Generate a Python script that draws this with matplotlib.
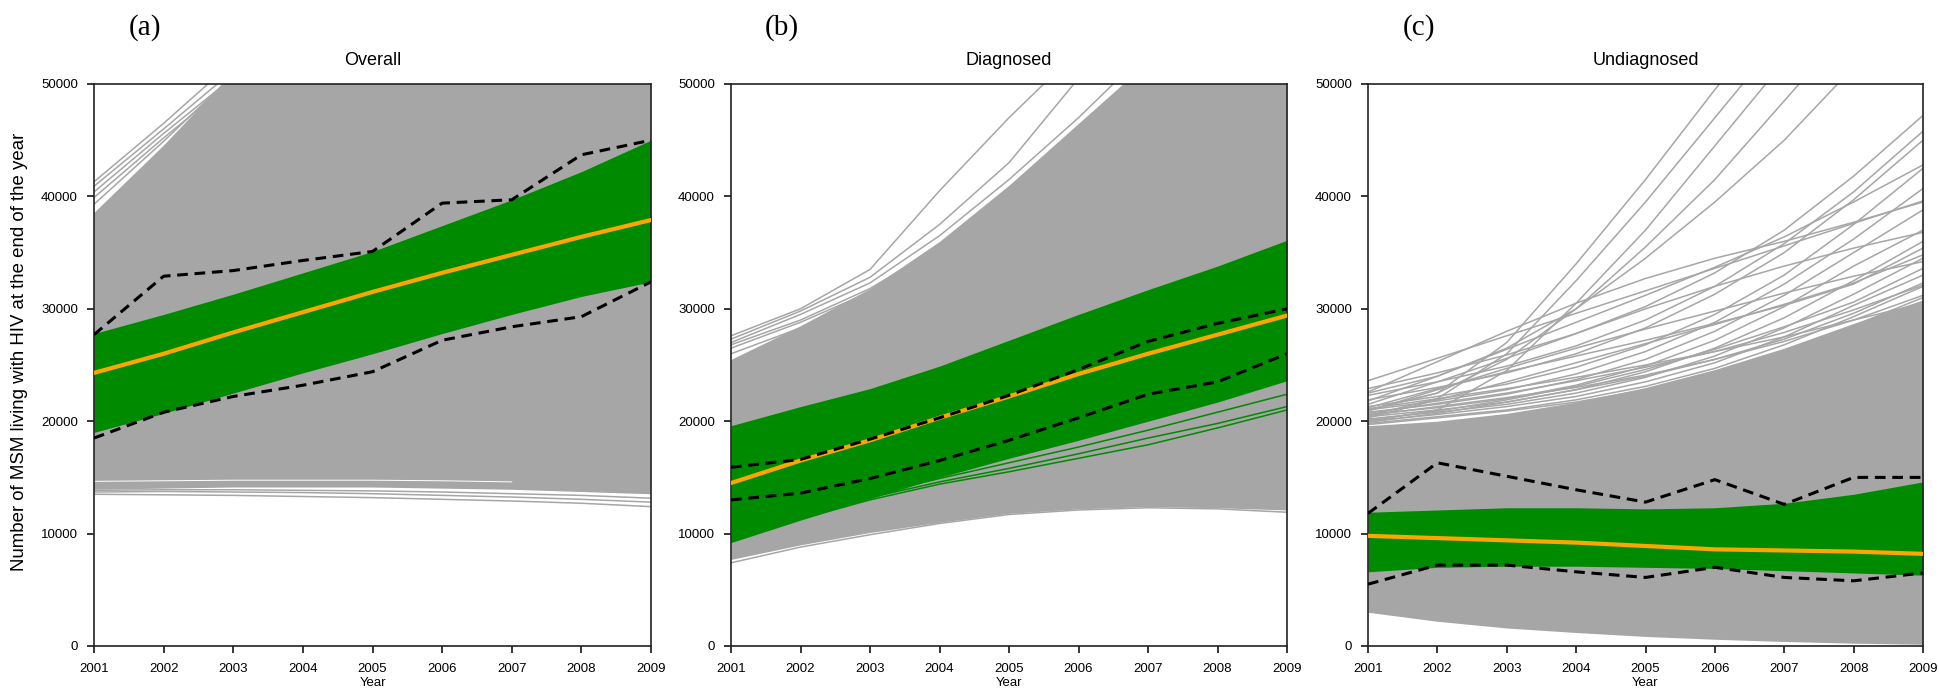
import numpy as np
import matplotlib
matplotlib.use("Agg")
import matplotlib.pyplot as plt

years = [2001, 2002, 2003, 2004, 2005, 2006, 2007, 2008, 2009]
panel_letters = ["(a)", "(b)", "(c)"]
panel_titles = ["Overall", "Diagnosed", "Undiagnosed"]
yticks = [0, 10000, 20000, 30000, 40000, 50000]

# ---------------- (a) Overall ----------------
ov_gray_lo = [13900, 14000, 14100, 14100, 14100, 14000, 13900, 13700, 13500]
ov_gray_hi = [38500, 44500, 51000, 56000, 60000, 64000, 68000, 72000, 76000]
ov_gray_lines = [
    [41300, 46500, 52000, 57000, 62000, 67000, 72000, 77000, 82000],
    [40900, 46000, 51200, 56000, 61000, 66000, 71000, 76000, 81000],
    [40400, 45600, 50600, 55500, 60500, 65500, 70500, 75500, 80500],
    [39900, 45200, 50300, 55000, 60000, 65000, 70000, 75000, 80000],
    [39300, 44900, 50800, 55500, 60000, 65000, 70000, 75000, 80000],
    [13500, 13450, 13400, 13300, 13200, 13050, 12900, 12700, 12400],
    [13700, 13750, 13700, 13650, 13550, 13400, 13250, 13050, 12800],
    [13850, 13900, 13900, 13850, 13800, 13700, 13550, 13400, 13150],
]
ov_gap = [14650, 14700, 14750, 14750, 14750, 14700, 14600, np.nan, np.nan]
ov_grn_lo = [19000, 20700, 22500, 24300, 26000, 27800, 29500, 31100, 32400]
ov_grn_hi = [27800, 29500, 31300, 33200, 35100, 37400, 39700, 42200, 45000]
ov_median = [24300, 26000, 27900, 29700, 31500, 33200, 34800, 36400, 37900]
ov_dash_hi = [27700, 32900, 33400, 34300, 35100, 39400, 39700, 43700, 45000]
ov_dash_lo = [18500, 20800, 22200, 23200, 24400, 27200, 28400, 29300, 32400]

# ---------------- (b) Diagnosed ----------------
dg_gray_lo = [7700, 9000, 10100, 11000, 11800, 12200, 12400, 12300, 12100]
dg_gray_hi = [25500, 28500, 31800, 36000, 41000, 46500, 52000, 57000, 62000]
dg_gray_lines = [
    [27600, 30000, 33500, 40500, 47000, 53000, 59000, 65000, 71000],
    [27300, 29800, 32800, 37500, 43000, 50500, 57000, 63000, 69000],
    [27000, 29500, 32300, 36500, 41500, 47000, 53000, 59000, 65000],
    [26800, 29000, 31800, 35500, 40000, 45500, 51500, 57000, 63000],
    [26500, 28800, 31500, 35000, 39500, 44500, 50000, 56000, 62000],
    [26000, 28300, 31000, 34500, 38500, 43000, 48500, 54000, 60000],
    [7400, 8800, 9900, 10900, 11700, 12100, 12300, 12200, 11900],
]
dg_grn_lo = [9200, 11200, 13100, 15000, 16700, 18300, 20000, 21700, 23600]
dg_grn_hi = [19600, 21300, 22900, 24900, 27200, 29500, 31700, 33800, 36100]
dg_grn_lines = [
    [9400, 11300, 13000, 14400, 15500, 16700, 17900, 19400, 21000],
    [9600, 11500, 13200, 14600, 15800, 17100, 18500, 19800, 21300],
    [9800, 11700, 13400, 14900, 16300, 17700, 19200, 20800, 22400],
]
dg_median = [14500, 16500, 18300, 20300, 22200, 24200, 26000, 27700, 29400]
dg_dash_hi = [15900, 16600, 18400, 20300, 22300, 24600, 27100, 28700, 30000]
dg_dash_lo = [13000, 13600, 14900, 16500, 18300, 20300, 22400, 23500, 26000]

# ---------------- (c) Undiagnosed ----------------
ud_gray_lo = [3000, 2200, 1600, 1200, 850, 600, 400, 250, 150]
ud_gray_hi = [19600, 20000, 20700, 21700, 23000, 24600, 26500, 28700, 30800]
ud_gray_lines = [
    [21000, 22500, 27000, 34000, 41500, 49500, 57000, 64000, 71000],
    [20500, 22000, 26000, 32500, 39500, 47000, 54500, 62000, 69000],
    [20000, 21000, 24500, 30500, 37000, 44500, 52000, 59000, 66000],
    [21000, 22500, 25500, 30000, 35500, 41500, 48500, 55500, 62000],
    [22500, 24000, 26500, 30000, 34500, 39500, 45000, 51500, 58000],
    [23600, 25600, 27600, 29600, 31600, 33600, 35600, 37600, 39600],
    [22900, 24300, 25900, 27800, 30200, 33200, 37000, 41800, 47200],
    [22300, 23500, 24900, 26700, 29000, 32000, 35800, 40400, 45800],
    [21900, 23000, 24300, 26000, 28300, 31300, 35000, 39700, 45000],
    [21800, 24000, 26400, 28800, 31200, 33700, 36400, 39500, 42800],
    [21300, 22200, 23300, 24800, 26800, 29500, 33000, 37500, 42500],
    [21000, 21800, 22800, 24200, 26200, 28800, 32200, 36200, 40700],
    [22600, 25300, 28000, 30500, 32700, 34500, 36000, 37700, 39500],
    [20800, 21500, 22400, 23700, 25500, 28000, 31200, 35000, 38800],
    [20600, 21200, 22000, 23200, 24900, 27200, 30200, 33800, 37000],
    [20400, 21000, 21700, 22800, 24400, 26500, 29200, 32500, 36000],
    [20200, 20800, 21500, 22500, 23900, 25800, 28300, 31300, 34500],
    [20000, 20600, 21300, 22200, 23500, 25200, 27500, 30300, 33000],
    [21500, 23500, 25600, 27800, 30000, 32000, 33800, 35400, 36800],
    [19800, 20400, 21000, 21900, 23100, 24700, 26800, 29300, 32000],
    [20900, 22800, 24700, 26500, 28200, 29800, 31400, 32900, 34200],
    [19700, 20300, 20900, 21700, 22800, 24300, 26200, 28500, 31000],
    [20300, 21900, 23500, 25200, 26900, 28600, 30400, 32300, 34800],
    [20100, 20900, 21900, 23100, 24600, 26400, 28400, 30600, 33600],
    [19900, 20700, 21700, 22800, 24000, 25500, 27300, 29600, 32300],
    [21200, 22900, 24400, 25800, 27200, 28700, 30300, 32200, 35400],
    [20700, 21600, 22500, 23600, 24800, 26200, 27900, 29900, 32100],
    [20500, 21300, 22100, 23000, 24100, 25500, 27100, 29000, 31200],
    [21100, 22000, 22900, 23900, 25000, 26200, 27500, 29000, 30500],
]
ud_grn_lo = [6600, 7000, 7100, 7100, 7000, 6900, 6700, 6500, 6300]
ud_grn_hi = [11900, 12100, 12300, 12300, 12200, 12300, 12700, 13500, 14600]
ud_median = [9800, 9600, 9400, 9200, 8900, 8600, 8500, 8400, 8200]
ud_dash_hi = [11800, 16300, 15100, 13900, 12800, 14800, 12600, 15000, 15000]
ud_dash_lo = [5500, 7200, 7200, 6600, 6100, 7000, 6100, 5800, 6500]

GRAY = "#a6a6a6"
GREEN = "#008a00"
ORANGE = "#ffa500"

panels = [
    dict(glo=ov_gray_lo, ghi=ov_gray_hi, glines=ov_gray_lines, gap=ov_gap,
         nlo=ov_grn_lo, nhi=ov_grn_hi, nlines=[], med=ov_median,
         dhi=ov_dash_hi, dlo=ov_dash_lo),
    dict(glo=dg_gray_lo, ghi=dg_gray_hi, glines=dg_gray_lines, gap=None,
         nlo=dg_grn_lo, nhi=dg_grn_hi, nlines=dg_grn_lines, med=dg_median,
         dhi=dg_dash_hi, dlo=dg_dash_lo),
    dict(glo=ud_gray_lo, ghi=ud_gray_hi, glines=ud_gray_lines, gap=None,
         nlo=ud_grn_lo, nhi=ud_grn_hi, nlines=[], med=ud_median,
         dhi=ud_dash_hi, dlo=ud_dash_lo),
]

W, H = 1939, 693
fig = plt.figure(figsize=(W / 100, H / 100), dpi=100)
plt.rcParams['font.family'] = ['Liberation Sans', 'DejaVu Sans']

boxes = [(94, 651), (731, 1287), (1368, 1923)]
top_px, bot_px = 84, 646

for i, (p, (x0, x1)) in enumerate(zip(panels, boxes)):
    ax = fig.add_axes([x0 / W, 1 - bot_px / H, (x1 - x0) / W, (bot_px - top_px) / H])
    ax.fill_between(years, p["glo"], p["ghi"], color=GRAY, lw=0, zorder=1)
    for ln in p["glines"]:
        ax.plot(years, ln, color=GRAY, lw=1.1, zorder=1)
    if p["gap"] is not None:
        ax.plot(years, p["gap"], color="white", lw=0.7, zorder=1.1)
    ax.fill_between(years, p["nlo"], p["nhi"], color=GREEN, lw=0, zorder=2)
    for ln in p["nlines"]:
        ax.plot(years, ln, color=GREEN, lw=1.1, zorder=2)
    ax.plot(years, p["med"], color=ORANGE, lw=3.0, zorder=3)
    ax.plot(years, p["dhi"], color="black", lw=2.2, ls=(0, (3.5, 2.2)), zorder=4)
    ax.plot(years, p["dlo"], color="black", lw=2.2, ls=(0, (3.5, 2.2)), zorder=4)

    ax.set_xlim(2001, 2009)
    ax.set_ylim(0, 50000)
    ax.set_xticks(years)
    ax.set_xticklabels([str(y) for y in years])
    ax.set_yticks(yticks)
    ax.set_yticklabels([str(v) for v in yticks])
    ax.tick_params(direction="out", length=5, width=1.1, labelsize=9.5,
                   colors="black")
    ax.tick_params(axis="x", pad=7.5)
    ax.tick_params(axis="y", pad=6.5)
    for s in ax.spines.values():
        s.set_linewidth(1.2)
        s.set_color("#222222")
    ax.set_title(panel_titles[i], fontsize=13, pad=14)
    ax.set_xlabel("Year", fontsize=9.5, labelpad=1.5)
    if i == 0:
        ax.set_ylabel("Number of MSM living with HIV at the end of the year",
                      fontsize=13.4)
        ax.yaxis.set_label_coords((28 - x0) / (x1 - x0), (bot_px - 352) / (bot_px - top_px))
    fig.text((x0 + 51) / W, 1 - 28 / H, panel_letters[i],
             family="Liberation Serif", fontsize=21, ha="center", va="center")

fig.savefig("out.png", dpi=100)
